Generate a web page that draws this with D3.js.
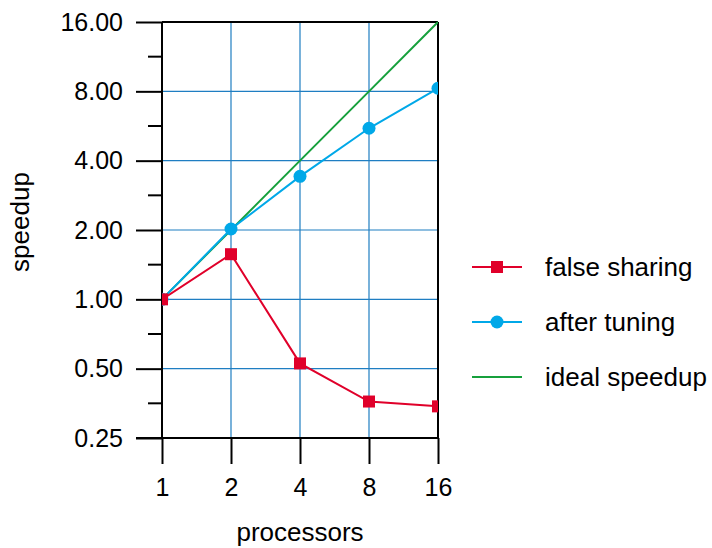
<!DOCTYPE html>
<html><head><meta charset="utf-8">
<script src="https://cdn.jsdelivr.net/npm/d3@7"></script>
<style>body{margin:0;background:#fff}svg{display:block}text{font-family:"Liberation Sans",Arial,sans-serif}</style>
</head><body><svg id="c" width="712" height="548"></svg>
<script>
const processors = [1, 2, 4, 8, 16];
const falseSharing = [1.0, 1.57, 0.527, 0.36, 0.343];
const afterTuning = [1.0, 2.02, 3.42, 5.53, 8.25];
const idealSpeedup = [1, 2, 4, 8, 16];
const yTicks = [0.25, 0.5, 1, 2, 4, 8, 16];
const yMinor = [0.3536, 0.7071, 1.4142, 2.8284, 5.6569, 11.3137];
const seriesNames = ["false sharing", "after tuning", "ideal speedup"];

const svg = d3.select("#c");
const L = 162, R = 438, T = 22, B = 438;
const x = d3.scaleLog().base(2).domain([1, 16]).range([L, R]);
const y = d3.scaleLog().base(2).domain([0.25, 16]).range([B, T]);
const grid = "#1f7ec2";

// gridlines
svg.append("g").selectAll("line").data(processors.slice(1, -1)).join("line")
  .attr("x1", d => x(d)).attr("x2", d => x(d)).attr("y1", T).attr("y2", B)
  .attr("stroke", grid).attr("stroke-width", 1.2);
svg.append("g").selectAll("line").data(yTicks.slice(1, -1)).join("line")
  .attr("x1", L).attr("x2", R).attr("y1", d => y(d)).attr("y2", d => y(d))
  .attr("stroke", grid).attr("stroke-width", 1.2);

// frame
svg.append("line").attr("x1", L).attr("x2", R).attr("y1", T).attr("y2", T).attr("stroke", "#000").attr("stroke-width", 2);
svg.append("line").attr("x1", R).attr("x2", R).attr("y1", T).attr("y2", B).attr("stroke", "#000").attr("stroke-width", 2);

// axes
const fmt = d3.format(".2f");
const yAxis = d3.axisLeft(y).tickValues(yTicks).tickFormat(d => fmt(d)).tickSize(26).tickPadding(13);
const gy = svg.append("g").attr("transform", `translate(${L},0)`).call(yAxis);
gy.attr("font-size", null).attr("font-family", null);
gy.select(".domain").attr("stroke-width", 2).attr("d", `M0,${T}V${B}`);
gy.selectAll(".tick line").attr("stroke-width", 2);
gy.selectAll(".tick text").style("font-size", "25px").attr("fill", "#000");
svg.append("g").selectAll("line").data(yMinor).join("line")
  .attr("x1", L - 14).attr("x2", L).attr("y1", d => y(d)).attr("y2", d => y(d))
  .attr("stroke", "#000").attr("stroke-width", 2);

const xAxis = d3.axisBottom(x).tickValues(processors).tickFormat(d3.format("d")).tickSize(26).tickPadding(12);
const gx = svg.append("g").attr("transform", `translate(0,${B})`).call(xAxis);
gx.attr("font-size", null).attr("font-family", null);
gx.select(".domain").attr("stroke-width", 2).attr("d", `M${L - 26},0H${R}`);
gx.selectAll(".tick line").attr("stroke-width", 2);
gx.selectAll(".tick text").style("font-size", "25px").attr("fill", "#000").attr("dy", null).attr("y", 58);

// labels
svg.append("text").attr("x", x(4)).attr("y", 541).attr("text-anchor", "middle").style("font-size", "26px").text("processors");
svg.append("text").attr("transform", "translate(29,222) rotate(-90)").attr("text-anchor", "middle").style("font-size", "26px").text("speedup");

// clip
svg.append("clipPath").attr("id", "clip").append("rect").attr("x", L).attr("y", T - 1).attr("width", R - L).attr("height", B - T + 1);
const plot = svg.append("g").attr("clip-path", "url(#clip)");

const colors = ["#e0002a", "#00a8e8", "#16a03c"];
const line = d3.line().x((d, i) => x(processors[i])).y(d => y(d));

plot.append("path").datum(idealSpeedup).attr("d", line).attr("fill", "none").attr("stroke", colors[2]).attr("stroke-width", 2);
plot.append("path").datum(afterTuning).attr("d", line).attr("fill", "none").attr("stroke", colors[1]).attr("stroke-width", 2);
plot.selectAll("circle.t").data(afterTuning).join("circle").attr("class", "t")
  .attr("cx", (d, i) => x(processors[i])).attr("cy", d => y(d)).attr("r", 6.5).attr("fill", colors[1]);
plot.append("path").datum(falseSharing).attr("d", line).attr("fill", "none").attr("stroke", colors[0]).attr("stroke-width", 2);
plot.selectAll("rect.f").data(falseSharing).join("rect").attr("class", "f")
  .attr("x", (d, i) => x(processors[i]) - 6).attr("y", d => y(d) - 6).attr("width", 12).attr("height", 12).attr("fill", colors[0]);

// legend
const lg = svg.append("g");
seriesNames.forEach((name, i) => {
  const ly = 267 + i * 55;
  lg.append("line").attr("x1", 472).attr("x2", 522).attr("y1", ly).attr("y2", ly).attr("stroke", colors[i]).attr("stroke-width", 2);
  if (i === 0) lg.append("rect").attr("x", 491).attr("y", ly - 6).attr("width", 12).attr("height", 12).attr("fill", colors[0]);
  if (i === 1) lg.append("circle").attr("cx", 497).attr("cy", ly).attr("r", 6.5).attr("fill", colors[1]);
  lg.append("text").attr("x", 545).attr("y", ly + 9).style("font-size", "26px").text(name);
});
</script></body></html>
